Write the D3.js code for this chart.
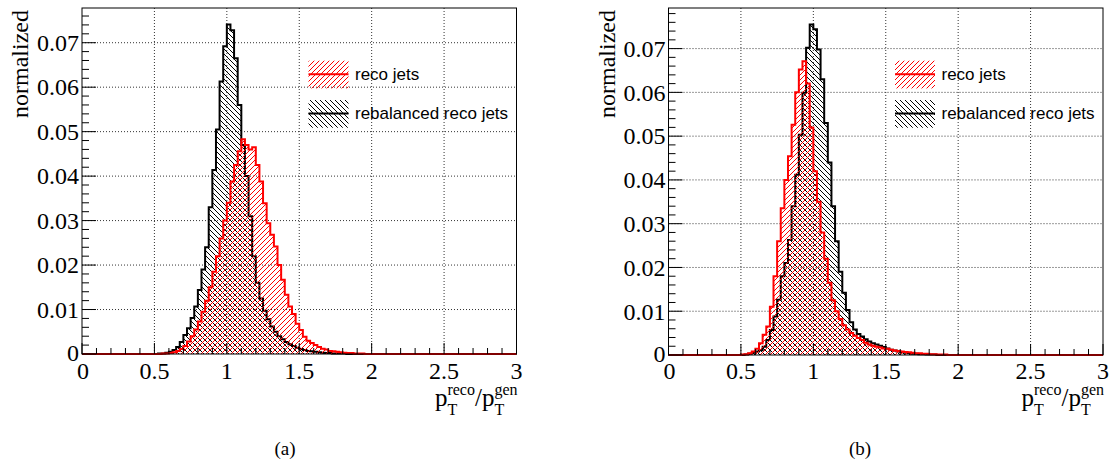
<!DOCTYPE html>
<html><head><meta charset="utf-8">
<script src="https://cdn.jsdelivr.net/npm/d3@7"></script>
<style>
body{margin:0;background:#fff}
svg{display:block}
</style>
</head><body>
<svg id="c" width="1110" height="463"></svg>
<script>
// ---------------- data ----------------
const binWidth = 0.025;          // histogram bin width
const firstBinLow = 0.5;         // lower edge of first listed bin (bins outside listed range are empty)
const xRange = [0, 3];

// panel (a)
const recoA = [
 0.0000,0.0000,0.0001,0.0001,0.0002,0.0004,0.0007,0.0011,0.0018,0.0028,
 0.0040,0.0055,0.0073,0.0095,0.0120,0.0150,0.0185,0.0220,0.0260,0.0300,
 0.0340,0.0388,0.0425,0.0456,0.0483,0.0470,0.0460,0.0465,0.0425,0.0388,
 0.0339,0.0294,0.0268,0.0242,0.0200,0.0167,0.0133,0.0107,0.0090,0.0068,
 0.0054,0.0039,0.0030,0.0025,0.0020,0.0016,0.0012,0.0010,0.0007,0.0006,
 0.0005,0.0004,0.0003,0.0002,0.0002,0.0001,0.0001,0.0001,0.0000,0.0000
];
const rebalA = [
 0.0000,0.0001,0.0001,0.0003,0.0005,0.0009,0.0016,0.0027,0.0043,0.0058,
 0.0081,0.0107,0.0144,0.0190,0.0240,0.0330,0.0414,0.0505,0.0613,0.0692,
 0.0741,0.0728,0.0665,0.0560,0.0470,0.0400,0.0310,0.0220,0.0160,0.0125,
 0.0097,0.0078,0.0062,0.0050,0.0040,0.0033,0.0027,0.0022,0.0018,0.0014,
 0.0011,0.0009,0.0007,0.0006,0.0005,0.0004,0.0003,0.0002,0.0002,0.0001,
 0.0001,0.0001,0.0001,0.0000,0.0000,0.0000,0.0000,0.0000,0.0000,0.0000
];
// panel (b)
const recoB = [
 0.0001,0.0002,0.0004,0.0008,0.0014,0.0027,0.0046,0.0065,0.0110,0.0180,
 0.0260,0.0335,0.0400,0.0454,0.0526,0.0600,0.0652,0.0671,0.0620,0.0520,
 0.0420,0.0350,0.0280,0.0220,0.0165,0.0125,0.0100,0.0082,0.0068,0.0058,
 0.0050,0.0044,0.0039,0.0034,0.0028,0.0024,0.0021,0.0019,0.0017,0.0015,
 0.0014,0.0012,0.0010,0.0009,0.0008,0.0007,0.0006,0.0005,0.0004,0.0004,
 0.0003,0.0003,0.0002,0.0002,0.0001,0.0001,0.0001,0.0000,0.0000,0.0000
];
const rebalB = [
 0.0000,0.0001,0.0003,0.0005,0.0008,0.0011,0.0019,0.0034,0.0057,0.0088,
 0.0126,0.0180,0.0210,0.0263,0.0340,0.0412,0.0503,0.0599,0.0702,0.0755,
 0.0744,0.0698,0.0630,0.0530,0.0440,0.0340,0.0260,0.0190,0.0142,0.0103,
 0.0075,0.0058,0.0048,0.0042,0.0036,0.0031,0.0027,0.0024,0.0021,0.0018,
 0.0015,0.0012,0.0010,0.0008,0.0006,0.0005,0.0004,0.0003,0.0003,0.0002,
 0.0002,0.0001,0.0001,0.0001,0.0000,0.0000,0.0000,0.0000,0.0000,0.0000
];

const xTicks = [0, 0.5, 1, 1.5, 2, 2.5, 3];
const xTickLabels = ["0", "0.5", "1", "1.5", "2", "2.5", "3"];
const yTicks = [0, 0.01, 0.02, 0.03, 0.04, 0.05, 0.06, 0.07];
const yTickLabels = ["0", "0.01", "0.02", "0.03", "0.04", "0.05", "0.06", "0.07"];
const yTitle = "normalized";
const legendLabels = ["reco jets", "rebalanced reco jets"];
const captions = ["(a)", "(b)"];
const RED = "#ff0000", BLACK = "#000000";
const SERIF = `"Liberation Serif", "Times New Roman", serif`;
const SANS = `"Liberation Sans", Arial, sans-serif`;
const sizeTick = 24;

// ---------------- drawing ----------------
const svg = d3.select("#c");
const defs = svg.append("defs");
function hatch(id, color, dir) {
  const p = defs.append("pattern").attr("id", id).attr("patternUnits", "userSpaceOnUse")
    .attr("width", 5).attr("height", 5);
  const d = dir === "/" ? "M0,5 L5,0 M-1,1 L1,-1 M4,6 L6,4" : "M0,0 L5,5 M-1,4 L1,6 M4,-1 L6,1";
  p.append("path").attr("d", d).attr("stroke", color).attr("stroke-width", 1).attr("fill", "none");
}
hatch("hRed", RED, "/");
hatch("hBlk", BLACK, "\\");

function txt(sel, family, size) {
  return sel.append("text").style("font-family", family)
    .style("font-size", size + "px").attr("fill", "#000");
}

function fullBins(vals) {
  const n = Math.round((xRange[1] - xRange[0]) / binWidth);
  const off = Math.round((firstBinLow - xRange[0]) / binWidth);
  const out = [];
  for (let i = 0; i < n; i++) {
    const k = i - off;
    out.push({ x: xRange[0] + i * binWidth, v: (k >= 0 && k < vals.length) ? vals[k] : 0 });
  }
  out.push({ x: xRange[1], v: out[out.length - 1].v });
  return out;
}

function panel(fr, reco, rebal, caption) {
  const g = svg.append("g");
  const ymax = 1.05 * d3.max(reco.concat(rebal));
  const x = d3.scaleLinear().domain(xRange).range([fr.x0, fr.x1]);
  const y = d3.scaleLinear().domain([0, ymax]).range([fr.yb, fr.yt]);

  // grid
  const grid = g.append("g").attr("stroke", "#333").attr("stroke-dasharray", "1,2").attr("stroke-width", 1);
  xTicks.filter(t => t > xRange[0] && t < xRange[1]).forEach(t => {
    grid.append("line").attr("x1", x(t)).attr("x2", x(t)).attr("y1", fr.yt).attr("y2", fr.yb);
  });
  yTicks.filter(t => t > 0).forEach(t => {
    grid.append("line").attr("x1", fr.x0).attr("x2", fr.x1).attr("y1", y(t)).attr("y2", y(t));
  });

  // histograms
  const area = d3.area().x(d => x(d.x)).y0(y(0)).y1(d => y(d.v)).curve(d3.curveStepAfter);
  const line = d3.line().x(d => x(d.x)).y(d => y(d.v)).curve(d3.curveStepAfter);
  [[rebal, "url(#hBlk)", BLACK], [reco, "url(#hRed)", RED]].forEach(([vals, fill, col]) => {
    const b = fullBins(vals);
    g.append("path").attr("d", area(b)).attr("fill", fill).attr("stroke", "none");
    g.append("path").attr("d", line(b)).attr("fill", "none").attr("stroke", col).attr("stroke-width", 2);
  });

  // frame
  g.append("rect").attr("x", fr.x0).attr("y", fr.yt).attr("width", fr.x1 - fr.x0).attr("height", fr.yb - fr.yt)
    .attr("fill", "none").attr("stroke", "#000").attr("stroke-width", 1);

  // y axis ticks (inside)
  d3.range(0, ymax, 0.002).forEach(t => {
    const major = Math.abs(t / 0.01 - Math.round(t / 0.01)) < 1e-6;
    g.append("line").attr("x1", fr.x0).attr("x2", fr.x0 + (major ? 14 : 7))
      .attr("y1", y(t)).attr("y2", y(t)).attr("stroke", "#000").attr("stroke-width", 1);
  });
  yTicks.forEach((t, i) => {
    txt(g, SERIF, sizeTick).attr("x", fr.x0 - 3).attr("y", y(t) + (i === 0 ? 7 : 8.3))
      .attr("text-anchor", "end").text(yTickLabels[i]);
  });
  // x axis ticks (inside)
  d3.range(0, 30.5).map(k => k / 10).forEach(t => {
    const major = Math.abs(t * 2 - Math.round(t * 2)) < 1e-6;
    g.append("line").attr("x1", x(t)).attr("x2", x(t)).attr("y1", fr.yb).attr("y2", fr.yb - (major ? 11 : 6))
      .attr("stroke", "#000").attr("stroke-width", 1);
  });
  xTicks.forEach((t, i) => {
    txt(g, SERIF, sizeTick).attr("x", x(t) + (i === 0 ? 1 : 0)).attr("y", 378.5)
      .attr("text-anchor", "middle").text(xTickLabels[i]);
  });

  // y title
  txt(g, SERIF, sizeTick).attr("transform", `translate(${fr.x0 - 54},10) rotate(-90)`)
    .attr("text-anchor", "end").text(yTitle);

  // x title  p_T^reco / p_T^gen
  const tg = g.append("g");
  let cx = 0;
  function put(s, size, yb) {
    const el = txt(tg, SERIF, size).attr("x", cx).attr("y", yb).text(s);
    return el.node().getComputedTextLength();
  }
  function pT(sup) {
    cx += put("p", 25, 406);
    const w1 = put(sup, 16, 395);
    const w2 = put("T", 16, 415);
    cx += Math.max(w1, w2);
  }
  pT("reco");
  cx += put("/", 25, 406);
  pT("gen");
  tg.attr("transform", `translate(${fr.x1 + 1 - cx},0)`);

  // legend
  const lg = g.append("g");
  [[legendLabels[0], "url(#hRed)", RED, 60.7], [legendLabels[1], "url(#hBlk)", BLACK, 100]].forEach(([lab, fill, col, top]) => {
    const lx = fr.x0 + 226.5;
    lg.append("rect").attr("x", lx).attr("y", top).attr("width", 40).attr("height", 27.7).attr("fill", fill);
    lg.append("line").attr("x1", lx).attr("x2", lx + 40).attr("y1", top + 13.5).attr("y2", top + 13.5)
      .attr("stroke", col).attr("stroke-width", 2);
    txt(lg, SANS, 17).attr("x", lx + 46.5).attr("y", top + 19).text(lab);
  });

  // caption
  txt(g, SERIF, 19).attr("x", fr.cap).attr("y", 455)
    .attr("text-anchor", "middle").text(caption);
}

panel({ x0: 82, x1: 516.5, yt: 8, yb: 354, cap: 285 }, recoA, rebalA, captions[0]);
panel({ x0: 668.5, x1: 1103, yt: 8, yb: 355, cap: 860 }, recoB, rebalB, captions[1]);
</script>
</body></html>
